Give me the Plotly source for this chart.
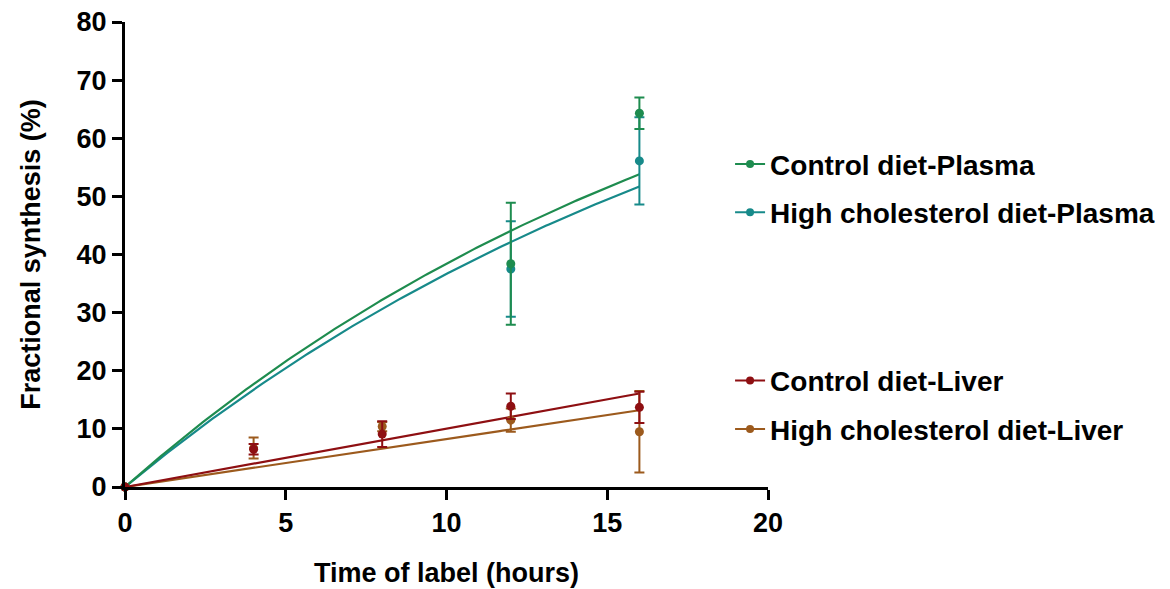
import numpy as np
import plotly.graph_objects as go

# Sampling times (hours)
time_plasma = [0, 12, 16]
time_liver = [0, 4, 8, 12, 16]

# Mean fractional synthesis (%) and error (SD)
ctrl_plasma_mean = [0, 38.4, 64.3]
ctrl_plasma_err = [0, 10.5, 2.7]
hc_plasma_mean = [0, 37.5, 56.1]
hc_plasma_err = [0, 8.2, 7.5]

ctrl_liver_mean = [0, 6.5, 9.1, 13.9, 13.7]
ctrl_liver_err = [0, 0.9, 2.2, 2.2, 2.7]
hc_liver_mean = [0, 6.7, 10.4, 11.5, 9.5]
hc_liver_err = [0, 1.8, 0.8, 2.0, 7.0]

# Fitted model parameters
# plasma: one-phase association Y = plateau * (1 - exp(-k t))
ctrl_plasma_fit = {"plateau": 97.7, "k": 0.050}
hc_plasma_fit = {"plateau": 97.8, "k": 0.047}
# liver: straight line through the origin Y = slope * t
ctrl_liver_slope = 1.005
hc_liver_slope = 0.825

names = [
    "Control diet-Plasma",
    "High cholesterol diet-Plasma",
    "Control diet-Liver",
    "High cholesterol diet-Liver",
]
colors = ["#1e8c4f", "#178a8a", "#8e0f12", "#9c5a1d"]

FONT = "Liberation Sans, Arial, sans-serif"
BOLD = dict(family=FONT, size=27, color="black", weight="bold")

t_fit = np.linspace(0, 16, 200)
curves = [
    ctrl_plasma_fit["plateau"] * (1 - np.exp(-ctrl_plasma_fit["k"] * t_fit)),
    hc_plasma_fit["plateau"] * (1 - np.exp(-hc_plasma_fit["k"] * t_fit)),
    ctrl_liver_slope * t_fit,
    hc_liver_slope * t_fit,
]
points = [
    (time_plasma, ctrl_plasma_mean, ctrl_plasma_err),
    (time_plasma, hc_plasma_mean, hc_plasma_err),
    (time_liver, ctrl_liver_mean, ctrl_liver_err),
    (time_liver, hc_liver_mean, hc_liver_err),
]

fig = go.Figure()

# draw order: brown liver first so the red control marks sit on top
order = [1, 0, 3, 2]
for i in order:
    fig.add_trace(go.Scatter(
        x=t_fit, y=curves[i], mode="lines",
        line=dict(color=colors[i], width=2.2),
        showlegend=False, hoverinfo="skip", cliponaxis=False,
    ))
for i in order:
    tx, my, ey = points[i]
    fig.add_trace(go.Scatter(
        x=tx, y=my, mode="markers",
        marker=dict(color=colors[i], size=9),
        error_y=dict(type="data", array=ey, color=colors[i],
                     thickness=2, width=5),
        showlegend=False, cliponaxis=False,
    ))

# legend entries (two blocks: plasma and liver)
for i in range(4):
    fig.add_trace(go.Scatter(
        x=[None], y=[None], mode="lines+markers", name=names[i],
        line=dict(color=colors[i], width=2),
        marker=dict(color=colors[i], size=8),
        legend="legend" if i < 2 else "legend2",
        legendgroup=names[i],
    ))

legend_common = dict(
    font=dict(family=FONT, size=28, color="black", weight="bold"),
    bgcolor="rgba(0,0,0,0)",
    traceorder="grouped",
    tracegroupgap=9,
    xanchor="left", yanchor="top",
    itemwidth=30,
)

fig.update_layout(
    width=1170, height=589,
    margin=dict(l=125, r=402, t=22, b=102, autoexpand=False),
    plot_bgcolor="white", paper_bgcolor="white",
    font=BOLD,
    legend=dict(x=0.941, y=0.748, **legend_common),
    legend2=dict(x=0.941, y=0.282, **legend_common),
    xaxis=dict(
        range=[0, 20], tickvals=[0, 5, 10, 15, 20],
        showline=True, linecolor="black", linewidth=3,
        ticks="outside", ticklen=10, tickwidth=3, tickcolor="black",
        showgrid=False, zeroline=False,
        tickfont=BOLD,
        title=dict(text="Time of label (hours)", standoff=26, font=BOLD),
    ),
    yaxis=dict(
        range=[0, 80], tickvals=list(range(0, 81, 10)),
        showline=True, linecolor="black", linewidth=3,
        ticks="outside", ticklen=10, tickwidth=3, tickcolor="black",
        showgrid=False, zeroline=False,
        tickfont=BOLD,
        title=dict(text="Fractional synthesis (%)", standoff=29, font=BOLD),
    ),
)

fig.write_html("out.html")
